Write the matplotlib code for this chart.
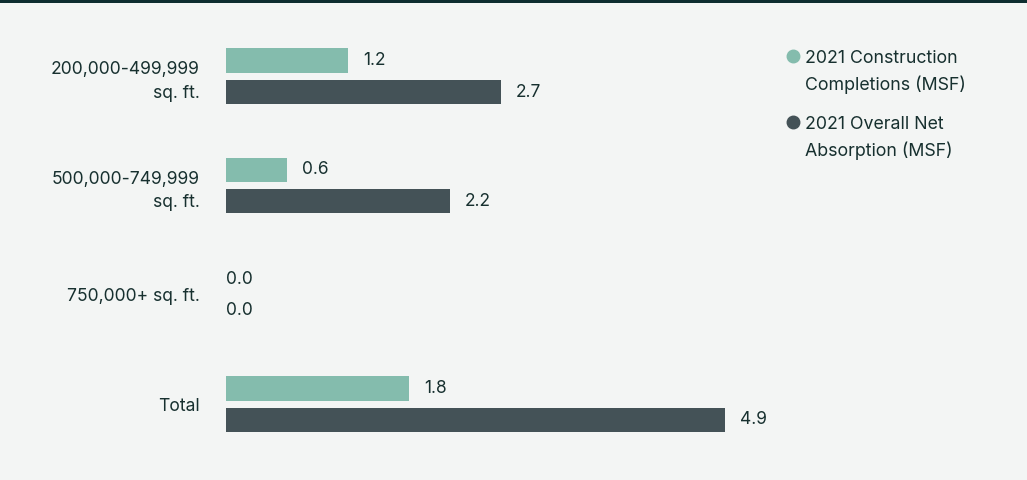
import numpy as np
import matplotlib.pyplot as plt
from matplotlib.lines import Line2D
from matplotlib.patches import Rectangle

plt.rcParams['font.family'] = ['Inter', 'DejaVu Sans']

categories = ["200,000-499,999\nsq. ft.", "500,000-749,999\nsq. ft.", "750,000+ sq. ft.", "Total"]
completions = [1.2, 0.6, 0.0, 1.8]
absorption = [2.7, 2.2, 0.0, 4.9]
series_names = ["2021 Construction\nCompletions (MSF)", "2021 Overall Net\nAbsorption (MSF)"]
colors = ["#84bcad", "#445257"]

bg = "#f3f5f4"
text_col = "#17302f"

fig = plt.figure(figsize=(10.27, 4.8), dpi=100, facecolor=bg)
ax = fig.add_axes([226 / 1027, 0.044, 560 / 1027, 0.911], facecolor=bg)

y = np.arange(len(categories))
h = 0.22
off = 0.144
for vals, col, dy in [(completions, colors[0], -off), (absorption, colors[1], off)]:
    bars = ax.barh(y + dy, vals, height=h, color=col, linewidth=0)
    for b, v in zip(bars, vals):
        pad = 15 if v > 0 else 0
        ax.annotate(f"{v:.1f}", (v, b.get_y() + b.get_height() / 2),
                    xytext=(pad, 0), textcoords="offset pixels",
                    va="center", ha="left", fontsize=12.5, color=text_col)

ax.set_xlim(0, 560 / 101.8)
ax.set_ylim(3.5, -0.5)
ax.set_yticks(y)
ax.set_yticklabels(categories, fontsize=12.6, color=text_col, linespacing=1.5)
ax.tick_params(axis="y", length=0, pad=19)
ax.set_xticks([])
for s in ax.spines.values():
    s.set_visible(False)

# legend drawn by hand so the dot lines up with the first text line
for i, (name, col) in enumerate(zip(series_names, colors)):
    ty = 1 - (50 + i * 66) / 480
    fig.text(805 / 1027, ty, name, va="top", ha="left", fontsize=12.8,
             color=text_col, linespacing=1.6)
    fig.add_artist(Line2D([793 / 1027], [1 - (56 + i * 66) / 480], marker="o",
                          markersize=9, color=col, linestyle="none",
                          transform=fig.transFigure))

fig.add_artist(Rectangle((0, 1 - 3 / 480), 1, 3 / 480, transform=fig.transFigure,
                         color="#0e2d30", linewidth=0))

fig.savefig("out.png", dpi=100, facecolor=bg)
